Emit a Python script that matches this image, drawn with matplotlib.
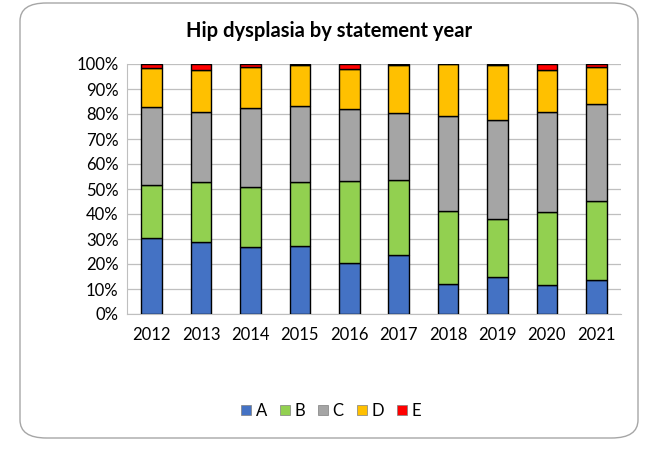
import matplotlib.pyplot as plt
from matplotlib.patches import FancyBboxPatch, Patch
import numpy as np

years = ["2012", "2013", "2014", "2015", "2016", "2017", "2018", "2019", "2020", "2021"]
# shares (%)
A = [30.4, 28.8, 26.8, 27.2, 20.3, 23.6, 12.0, 14.8, 11.6, 13.6]
B = [21.2, 24.0, 24.0, 25.6, 32.9, 30.0, 29.2, 23.2, 29.2, 31.6]
C = [31.2, 28.0, 31.6, 30.4, 28.8, 26.8, 38.0, 39.6, 40.0, 38.8]
D = [15.6, 16.8, 16.4, 16.4, 16.0, 19.2, 20.8, 22.0, 16.8, 14.8]
E = [1.6, 2.4, 1.2, 0.4, 2.0, 0.4, 0.0, 0.4, 2.4, 1.2]

series = {"A": A, "B": B, "C": C, "D": D, "E": E}
colors = {"A": "#4472C4", "B": "#92D050", "C": "#A5A5A5", "D": "#FFC000", "E": "#FF0000"}

plt.rcParams["font.family"] = ["Lato", "DejaVu Sans"]

fig = plt.figure(figsize=(6.59, 4.51), dpi=100)

# rounded chart frame
frame = FancyBboxPatch((20 / 659, 1 - 438 / 451), 618 / 659, 435 / 451,
                       boxstyle="round,pad=0,rounding_size=0.04",
                       transform=fig.transFigure, facecolor="white",
                       edgecolor="#A6A6A6", linewidth=1.0, zorder=-5)
fig.patches.append(frame)

ax = fig.add_axes([127 / 659, 1 - 314 / 451, 494 / 659, 250 / 451])
ax.set_facecolor("none")
ax.set_zorder(2)

x = np.arange(len(years))
bottom = np.zeros(len(years))
for name, vals in series.items():
    vals = np.array(vals)
    ax.bar(x, vals, 0.42, bottom=bottom, color=colors[name], edgecolor="black",
           linewidth=1.0, zorder=3)
    bottom += vals

ax.set_xlim(-0.5, len(years) - 0.5)
ax.set_ylim(0, 100)
ax.set_yticks(np.arange(0, 101, 10))
ax.set_yticklabels([f"{v}%" for v in range(0, 101, 10)], fontsize=12)
ax.set_xticks(x)
ax.set_xticklabels(years, fontsize=12)
ax.tick_params(length=0, pad=9)
ax.tick_params(axis="y", pad=6)
ax.grid(axis="y", color="#BFBFBF", linewidth=0.9, zorder=0)
for s in ["top", "right"]:
    ax.spines[s].set_visible(False)
ax.spines["left"].set_color("#BFBFBF")
ax.spines["bottom"].set_color("#BFBFBF")

fig.text(329 / 659, 1 - 31 / 451, "Hip dysplasia by statement year", ha="center",
         va="center", fontsize=14.5, fontweight="bold")

handles = [Patch(facecolor=colors[n], edgecolor="#7F7F7F", linewidth=0.5, label=n)
           for n in series]
fig.legend(handles=handles, loc="center", bbox_to_anchor=(331 / 659, 1 - 411 / 451),
           ncol=5, frameon=False, fontsize=12, handlelength=0.6, handleheight=0.6,
           handletextpad=0.25, columnspacing=0.8)

fig.savefig("out.png", dpi=100)
